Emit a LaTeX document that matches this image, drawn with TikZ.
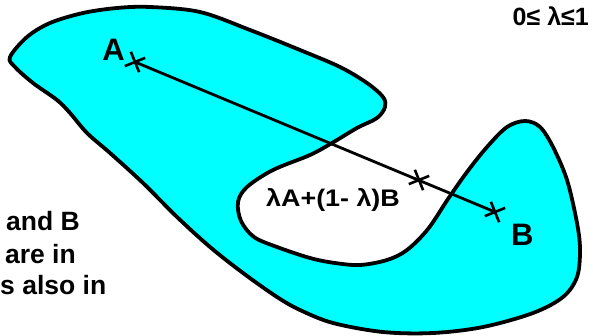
\documentclass[tikz,border=0pt]{standalone}
\usepackage{fontspec}
\setmainfont{Liberation Sans}
\usepackage{graphicx}
\usepackage{tikz}
\usetikzlibrary{shapes.misc,positioning}
\definecolor{setcyan}{RGB}{0,255,255}

\begin{document}
\begin{tikzpicture}[
    x=1pt, y=-1pt,
    region/.style={draw=black, fill=setcyan, line width=3.8pt, line join=round},
    crossmark/.style={cross out, draw, line width=2.6pt, minimum size=13pt, inner sep=0pt, rotate=-23},
    seg/.style={line width=2.8pt},
    ptlabel/.style={font=\bfseries\fontsize{31}{34}\selectfont, inner sep=0pt},
    txt/.style={font=\bfseries\fontsize{26.5}{30}\selectfont, inner sep=0pt}
]
    \useasboundingbox (0,0) rectangle (593,336);

    % Set
    \draw[region] plot[smooth cycle, tension=0.55] coordinates {
        (10,57) (27,37) (50,23) (83,13) (117,8) (150,7) (200,12) (250,30)
        (300,50) (340,67) (367,83) (383,97) (385,107) (377,118) (357,128)
        (332,143) (310,155) (273,170) (247,187) (238,202) (241,221) (254,237)
        (277,247) (310,258) (335,263) (360,265) (387,260) (407,250) (428,229)
        (448,199) (467,172) (487,147) (507,127) (525,121) (540,127) (553,147)
        (567,180) (577,223) (580,250) (577,277) (563,297) (533,313) (483,327)
        (433,333) (383,332) (333,323) (300,310) (277,297) (243,273) (210,247)
        (177,217) (143,183) (110,153) (87,133) (70,113) (57,100) (33,83) (15,67)};

    % Points
    \node[crossmark] (ptA) at (135,62) {};
    \node[crossmark] (ptMix) at (419,180) {};
    \node[crossmark] (ptB) at (495,212) {};
    \draw[seg] (ptA.center) -- (ptB.center);

    % Labels
    \node[ptlabel, anchor=base east] (labA) at (125,61) {A};
    \node[ptlabel, anchor=base west] (labB) at (511,245) {B};
    \node[txt, anchor=base west] (labMix) at (266,207)
        {\fontsize{24}{28}\selectfont\scalebox{1.12}[1]{λA+(1- λ)B}};
    \node[txt, anchor=base east, font=\bfseries\fontsize{25}{28}\selectfont] (range) at (589,26) {0≤ λ≤1};

    \node[txt, anchor=base east] (note1) at (80,231) {and B};
    \node[txt, anchor=base east] (note2) at (76,263) {are in};
    \node[txt, anchor=base west] (note3) at (0,294) {s also in};
\end{tikzpicture}
\end{document}
